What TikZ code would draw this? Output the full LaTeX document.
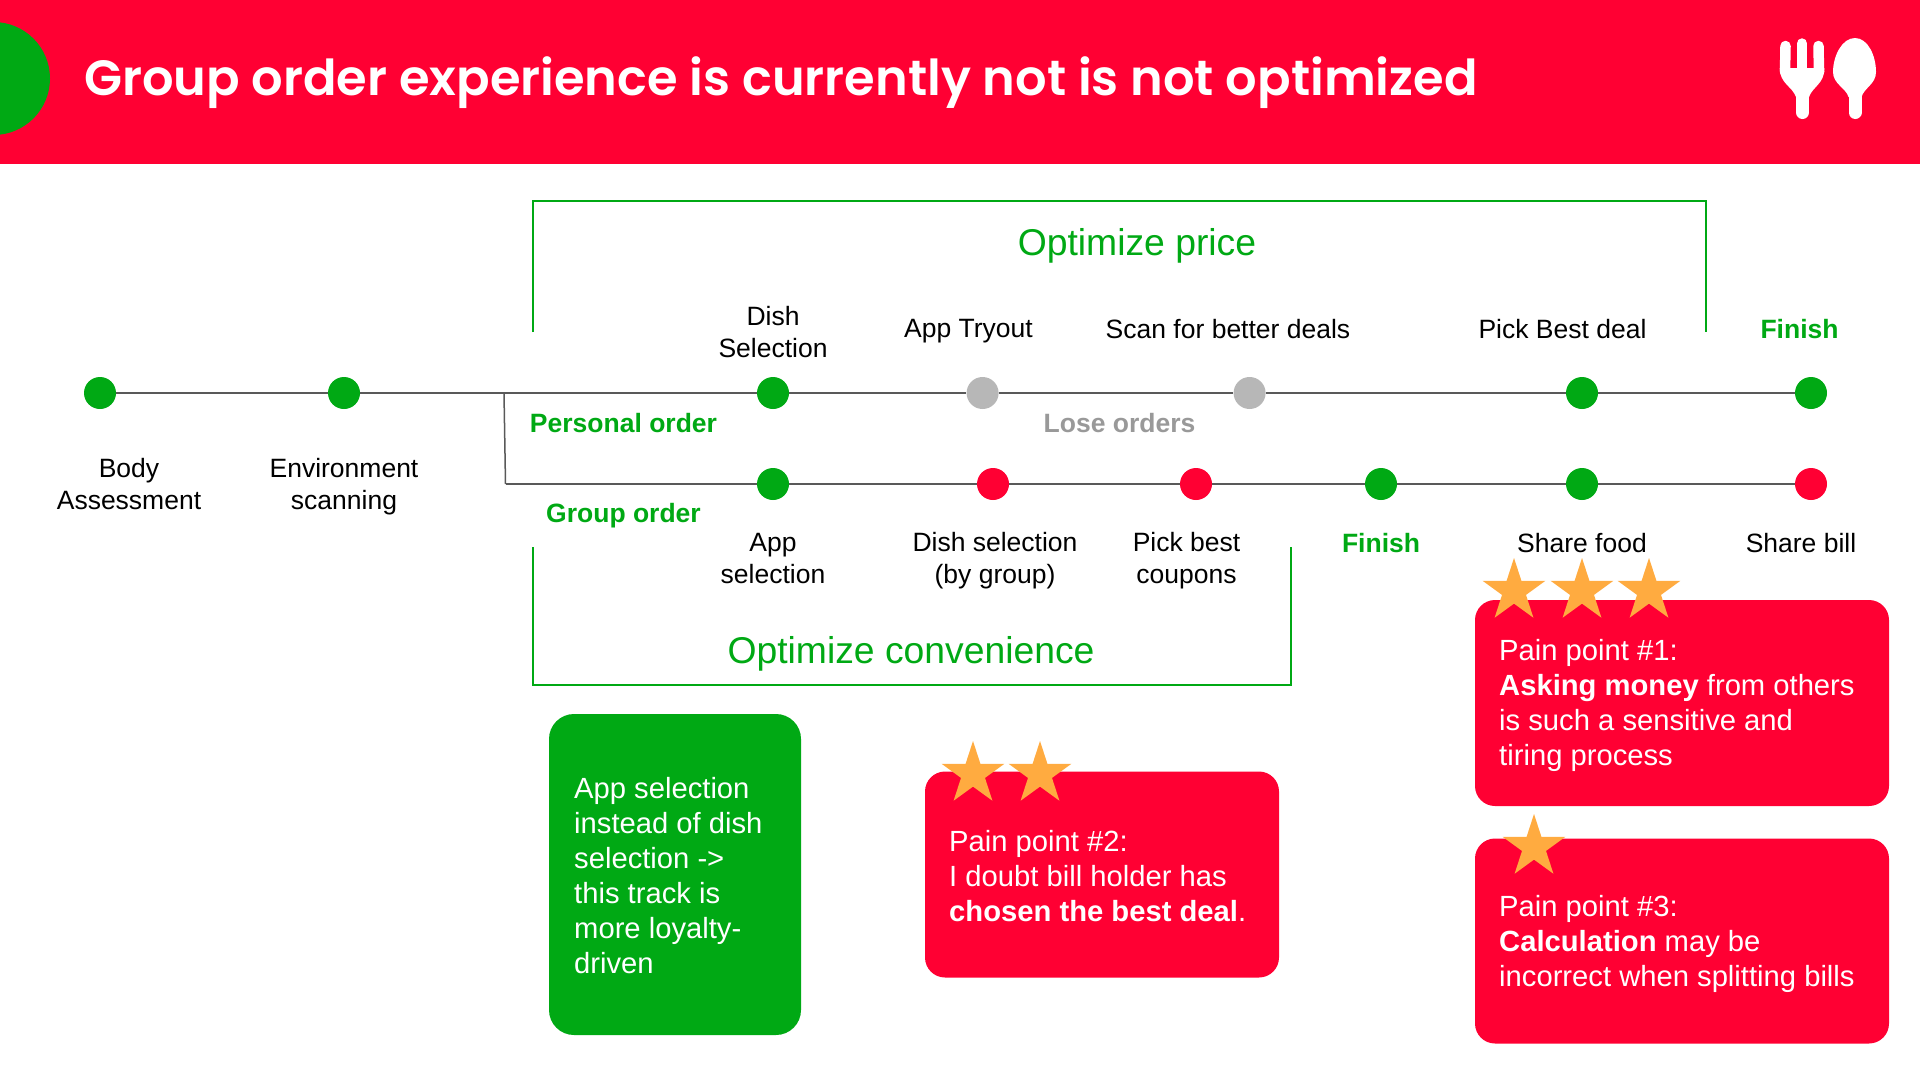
\documentclass[tikz,border=0pt]{standalone}
\usepackage{fontspec}
\setmainfont{Liberation Sans}
\newfontfamily\titlefont{Poppins SemiBold}
\usetikzlibrary{shapes.geometric}
\definecolor{brandred}{HTML}{FF0033}
\definecolor{brandgreen}{HTML}{00A914}
\definecolor{stargold}{HTML}{FFAB40}
\definecolor{trackgray}{HTML}{595959}
\definecolor{stopgray}{HTML}{B7B7B7}
\definecolor{losegray}{HTML}{999999}
\tikzset{
  stopgreen/.style={shape=circle,fill=brandgreen,minimum size=32pt,inner sep=0pt},
  stopred/.style={shape=circle,fill=brandred,minimum size=32pt,inner sep=0pt},
  stopidle/.style={shape=circle,fill=stopgray,minimum size=32pt,inner sep=0pt},
  track/.style={color=trackgray,line width=2pt},
  frameline/.style={color=brandgreen,line width=2pt},
  steplabel/.style={align=center,font=\fontsize{26.5}{32}\selectfont},
  greenlabel/.style={align=center,text=brandgreen,font=\fontsize{26.5}{32}\selectfont\bfseries},
  goaltext/.style={text=brandgreen,font=\fontsize{37.3}{44}\selectfont},
  painbox/.style={rectangle,rounded corners=20pt,fill=brandred,inner sep=0pt},
  paintext/.style={anchor=west,inner sep=0pt,text=white,align=left,font=\fontsize{29.2}{35}\selectfont},
  goldstar/.style={star,star points=5,star point ratio=2.618,fill=stargold,
    minimum size=66pt,inner sep=0pt,outer sep=0pt},
}
\begin{document}
\begin{tikzpicture}[x=1pt,y=-1pt]
  \useasboundingbox (0,0) rectangle (1920,1080);
  \fill[white] (0,0) rectangle (1920,1080);
  % header
  \fill[brandred] (0,0) rectangle (1920,163.5);
  \fill[brandgreen] (-6.5,78.5) circle (56.5);
  \node[anchor=west,text=white,inner sep=0pt,font=\titlefont\fontsize{49.5}{60}\selectfont] (title) at (84,83) {Group order experience is currently not is not optimized};
  % fork
  \draw[white,line width=10.5pt,line cap=round] (1785.5,46)--(1785,72);
  \draw[white,line width=10.5pt,line cap=round] (1802,43.5)--(1802,72);
  \draw[white,line width=10.5pt,line cap=round] (1818.5,46)--(1819,72);
  \fill[white] (1779.7,68) -- (1824.3,68) .. controls (1824.5,84) and (1813,86) .. (1809,97) -- (1796,97) .. controls (1792,86) and (1780,84) .. (1779.7,68) -- cycle;
  \draw[white,line width=13pt,line cap=round] (1802.5,90)--(1802.5,112.5);
  % spoon
  \fill[white] (1855,38) .. controls (1842,38) and (1833,56) .. (1833,72) .. controls (1833,84) and (1846,88) .. (1848.5,97) -- (1861.5,97) .. controls (1864,88) and (1876,84) .. (1876,72) .. controls (1876,56) and (1868,38) .. (1855,38) -- cycle;
  \draw[white,line width=13pt,line cap=round] (1855,90)--(1855,112.5);
  % frames
  \coordinate (priceA) at (533,332);
  \coordinate (priceB) at (1706,332);
  \coordinate (convA) at (533,547);
  \coordinate (convB) at (1291,547);
  \draw[frameline] (priceA)--(533,200.5)--(1706,200.5)--(priceB);
  \draw[frameline] (convA)--(533,684.5)--(1291,684.5)--(convB);
  \node[goaltext] (pricegoal) at (1137,245.5) {Optimize price};
  \node[goaltext] (convgoal) at (911,654) {Optimize convenience};
  % tracks
  \coordinate (splitA) at (504,393);
  \coordinate (splitB) at (505.5,484);
  \node[stopgreen] (body) at (100,393) {};
  \node[stopgreen] (scan) at (344,393) {};
  \node[stopgreen] (dish) at (773,393) {};
  \node[stopidle] (tryout) at (982.6,393) {};
  \node[stopidle] (deals) at (1249.6,393) {};
  \node[stopgreen] (best) at (1582,393) {};
  \node[stopgreen] (finishA) at (1811,393) {};
  \node[stopgreen] (app) at (773,484) {};
  \node[stopred] (group) at (993,484) {};
  \node[stopred] (coupons) at (1196,484) {};
  \node[stopgreen] (finishB) at (1381,484) {};
  \node[stopgreen] (food) at (1582,484) {};
  \node[stopred] (bill) at (1811,484) {};
  \draw[track] (body)--(scan)--(dish)--(tryout)--(deals)--(best)--(finishA);
  \draw[track] (splitB)--(app)--(group)--(coupons)--(finishB)--(food)--(bill);
  \draw[track,line width=1.5pt] (splitA)--(splitB);
  % labels above and below
  \node[steplabel] (bodylabel) at (129,484.5) {Body\\Assessment};
  \node[steplabel] (scanlabel) at (344,486.5) {Environment\\scanning};
  \node[steplabel] (dishlabel) at (773,332) {Dish\\Selection};
  \node[steplabel] (tryoutlabel) at (968.5,331.5) {App Tryout};
  \node[steplabel] (dealslabel) at (1228,329) {Scan for better deals};
  \node[steplabel] (bestlabel) at (1562.5,329) {Pick Best deal};
  \node[greenlabel] (finishAlabel) at (1799.5,329) {Finish};
  \node[greenlabel] (personal) at (623.5,423) {Personal order};
  \node[greenlabel,text=losegray] (lose) at (1119.5,423) {Lose orders};
  \node[greenlabel] (grouporder) at (623.5,515.5) {Group order};
  \node[steplabel] (applabel) at (773,559) {App\\selection};
  \node[steplabel] (grouplabel) at (995,561) {Dish selection\\(by group)};
  \node[steplabel] (couponslabel) at (1186.5,561) {Pick best\\coupons};
  \node[greenlabel] (finishBlabel) at (1381,543) {Finish};
  \node[steplabel] (foodlabel) at (1582,543) {Share food};
  \node[steplabel] (billlabel) at (1801,543) {Share bill};
  % boxes
  \node[painbox,fill=brandgreen,rounded corners=25pt,minimum width=252pt,minimum height=321pt] (loyalty) at (675,874.5) {};
  \node[paintext] (loyaltytext) at (574,875.5) {App selection\\instead of dish\\selection ->\\this track is\\more loyalty-\\driven};
  \node[painbox,minimum width=354pt,minimum height=206pt] (painb) at (1102,874.5) {};
  \node[paintext] (painbtext) at (949,876.4) {Pain point \#2:\\I doubt bill holder has\\\textbf{chosen the best deal}.};
  \node[painbox,minimum width=414pt,minimum height=206pt] (paina) at (1682,703) {};
  \node[paintext] (painatext) at (1499,705.4) {Pain point \#1:\\\textbf{Asking money} from others\\is such a sensitive and\\tiring process};
  \node[painbox,minimum width=414pt,minimum height=205pt] (painc) at (1682,941) {};
  \node[paintext] (painctext) at (1499,944) {Pain point \#3:\\\textbf{Calculation} may be\\incorrect when splitting bills};
  % stars
  \node[goldstar] (stara) at (1514,591) {};
  \node[goldstar] (starb) at (1582,591) {};
  \node[goldstar] (starc) at (1649,591) {};
  \node[goldstar] (stard) at (973,774) {};
  \node[goldstar] (stare) at (1040,774) {};
  \node[goldstar] (starf) at (1534,847) {};
\end{tikzpicture}
\end{document}
